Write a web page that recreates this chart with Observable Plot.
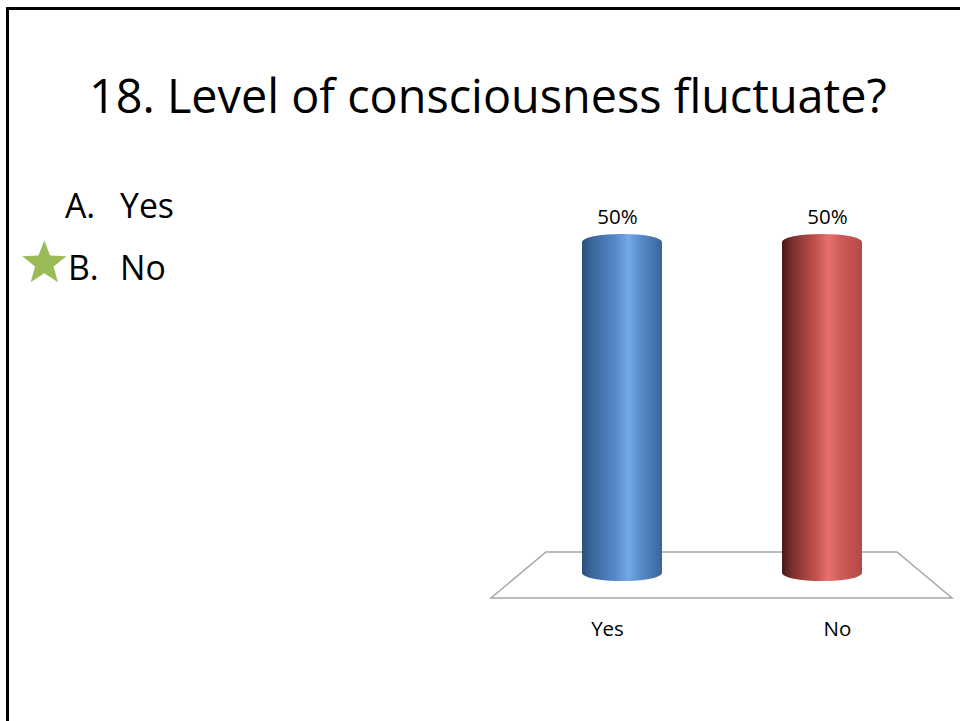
<!DOCTYPE html>
<html>
<head>
<meta charset="utf-8">
<script src="https://cdn.jsdelivr.net/npm/d3@7"></script>
<script src="https://cdn.jsdelivr.net/npm/@observablehq/plot@0.6"></script>
<style>
  html, body { margin: 0; padding: 0; background: #fff; }
  body { width: 960px; height: 721px; overflow: hidden; position: relative; font-family: "Open Sans", sans-serif; color: #000; }
  #frame { position: absolute; left: 6px; top: 7px; width: 1200px; height: 1200px; border: 3px solid #000; box-sizing: border-box; }
  .t { position: absolute; white-space: nowrap; line-height: 1; margin: 0; font-weight: normal; }
  #chart { position: absolute; left: 480px; top: 195px; }
  #star { position: absolute; left: 0; top: 0; }
</style>
</head>
<body>
<div id="frame"></div>
<h1 id="title" class="t"></h1>
<div id="list"></div>
<div id="chart"></div>
<script>
// ---- data ----
const titleText = "18. Level of consciousness fluctuate?";
const optionLetters = ["A.", "B."];
const optionTexts = ["Yes", "No"];
const correctOption = 1; // index of starred answer
const categories = ["Yes", "No"];
const values = [0.5, 0.5];
const valueLabels = ["50%", "50%"];

// ---- text helpers ----
const FAMILY = "'Open Sans', sans-serif";
const ctx = document.createElement("canvas").getContext("2d");
function fitSize(text, targetWidth) {
  ctx.font = `100px ${FAMILY}`;
  return 100 * targetWidth / ctx.measureText(text).width;
}
const BASE = 0.888; // baseline offset (em) for line-height:1 with Open Sans
function placeText(el, text, left, baseline, size) {
  el.textContent = text;
  el.style.fontSize = size + "px";
  el.style.left = left + "px";
  el.style.top = (baseline - BASE * size) + "px";
}

// title
const titleSize = fitSize(titleText, 798);
placeText(document.getElementById("title"), titleText, 89, 114, titleSize);

// answer list
const list = document.getElementById("list");
const listSize = fitSize("Yes", 54);
optionLetters.forEach((letter, i) => {
  const baseline = 219 + i * 62;
  const a = document.createElement("div"); a.className = "t";
  placeText(a, letter, 65 + (i === 1 ? 3 : 0), baseline, listSize);
  const b = document.createElement("div"); b.className = "t";
  placeText(b, optionTexts[i], 120, baseline, listSize);
  list.append(a, b);
});

// star marker for correct answer
(function () {
  const cx = 44.3, cy = 263.5 + (correctOption - 1) * 62, R = 23.2, r = R * 0.42;
  const pts = d3.range(10).map(k => {
    const ang = -Math.PI / 2 + k * Math.PI / 5;
    const rad = k % 2 === 0 ? R : r;
    return [cx + rad * Math.cos(ang), cy + rad * Math.sin(ang)];
  });
  const svg = d3.select("body").append("svg").attr("id", "star")
    .attr("width", 100).attr("height", 400);
  svg.append("polygon").attr("points", pts.map(p => p.join(",")).join(" ")).attr("fill", "#9BBB59");
})();

// ---- chart ----
const data = categories.map((category, i) => ({category, value: values[i], label: valueLabels[i]}));
const side = i => (i - (categories.length - 1) / 2) * 2; // -1, +1 perspective side

function floorMark(...args) {
  const sc = args.find(a => a && typeof a === "object" && typeof a.y === "function");
  const dims = args.find(a => a && typeof a === "object" && "marginLeft" in a && "width" in a);
  const y0 = sc.y(0);
  const l = dims.marginLeft, r = dims.width - dims.marginRight;
  const back = y0 - 29, front = y0 + 17;
  const pts = [[l + 24, back], [r - 25, back], [r + 30, front], [l - 31, front]];
  const g = d3.create("svg:polygon")
    .attr("points", pts.map(p => p.join(",")).join(" "))
    .attr("fill", "#fff")
    .attr("stroke", "#a6a6a6")
    .attr("stroke-width", 1.5);
  return g.node();
}

const chart = Plot.plot({
  width: 480,
  height: 455,
  marginTop: 39,
  marginBottom: 69,
  marginLeft: 42,
  marginRight: 38,
  x: {domain: categories, padding: 0, axis: null},
  y: {domain: [0, 0.5], axis: null},
  style: {fontFamily: FAMILY, fontSize: "20px", color: "#000", background: "transparent", overflow: "visible"},
  marks: [
    floorMark,
    ...data.map((d, i) => Plot.barY([d], {
      x: "category", y: "value", fill: `url(#cyl-${i})`,
      insetLeft: 60, insetRight: 60, rx: 40, ry: 8
    })),
    ...data.map((d, i) => Plot.text([d], {
      x: "category", y: "value", text: "label",
      dy: -17, dx: 5 * side(i), fontSize: 20.5, fill: "#000"
    })),
    ...data.map((d, i) => Plot.text([d], {
      x: "category", y: 0, text: "category",
      dy: 48, dx: 15 * side(i), fontSize: 20.5, fill: "#000"
    }))
  ]
});

// cylinder gradients
const gradients = [
  [["0%", "#2c4f7e"], ["12%", "#3b659c"], ["40%", "#5486c6"], ["58%", "#74a8e8"], ["72%", "#5a8dcc"], ["100%", "#3a649b"]],
  [["0%", "#461818"], ["12%", "#7a2d2c"], ["40%", "#bd4f4c"], ["58%", "#e8706c"], ["72%", "#d05c59"], ["100%", "#b44946"]]
];
const defs = d3.select(chart).insert("defs", ":first-child");
gradients.forEach((stops, i) => {
  const lg = defs.append("linearGradient").attr("id", `cyl-${i}`)
    .attr("x1", 0).attr("x2", 1).attr("y1", 0).attr("y2", 0);
  stops.forEach(([o, c]) => lg.append("stop").attr("offset", o).attr("stop-color", c));
});
d3.select(chart).selectAll("rect").filter(function () {
  return (this.getAttribute("fill") || "").startsWith("url(#cyl");
}).attr("rx", 40).attr("ry", 8);

document.getElementById("chart").append(chart);
</script>
</body>
</html>
